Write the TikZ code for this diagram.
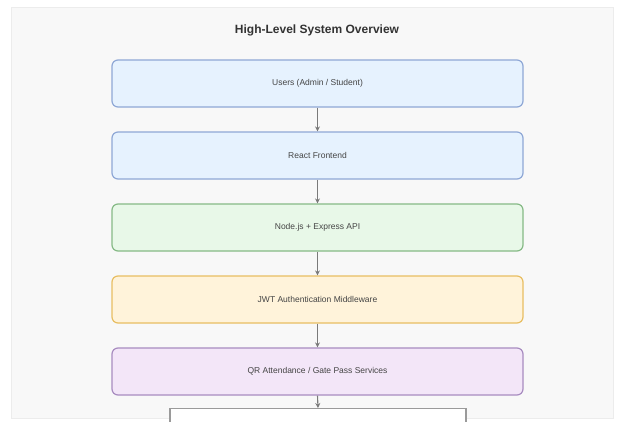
\documentclass[tikz,border=0pt]{standalone}
\usepackage{fontspec}
\setmainfont{Liberation Sans}
\usetikzlibrary{arrows.meta}
\definecolor{panelbg}{HTML}{F8F8F8}
\definecolor{panelln}{HTML}{ECECEC}
\definecolor{bluefill}{HTML}{E6F2FE}
\definecolor{blueline}{HTML}{8FA8D6}
\definecolor{greenfill}{HTML}{E8F8E8}
\definecolor{greenline}{HTML}{86BA86}
\definecolor{orangefill}{HTML}{FFF3DA}
\definecolor{orangeline}{HTML}{E8BE62}
\definecolor{purplefill}{HTML}{F3E6F8}
\definecolor{purpleline}{HTML}{A88CC0}
\definecolor{grayline}{HTML}{9A9A9A}
\definecolor{arrowgray}{HTML}{7A7A7A}
\definecolor{titlecol}{HTML}{333333}
\definecolor{textcol}{HTML}{444444}
\tikzset{
  layerbox/.style={draw, rounded corners=6pt, line width=1.2pt, minimum width=411pt, minimum height=47pt, inner sep=0pt, font=\fontsize{8.5}{10}\selectfont, text=textcol},
  flowarrow/.style={draw=arrowgray, line width=1.1pt, -{Stealth[length=5pt,width=5pt]}},
}
\begin{document}
\begin{tikzpicture}[x=1pt,y=-1pt]
\useasboundingbox (0,0) rectangle (618,421);
\clip (0,0) rectangle (618,421);
\fill[white] (0,0) rectangle (618,421);
\draw[panelln, fill=panelbg] (11,7) rectangle (613,418);
\node[font=\bfseries\fontsize{12}{14}\selectfont, text=titlecol] (title) at (317,30) {High-Level System Overview};
\node[layerbox, fill=bluefill, draw=blueline] (users) at (317.5,83.5) {Users (Admin / Student)};
\node[layerbox, fill=bluefill, draw=blueline] (react) at (317.5,155.5) {React Frontend};
\node[layerbox, fill=greenfill, draw=greenline] (api) at (317.5,227.5) {Node.js + Express API};
\node[layerbox, fill=orangefill, draw=orangeline] (jwt) at (317.5,299.5) {JWT Authentication Middleware};
\node[layerbox, fill=purplefill, draw=purpleline] (qr) at (317.5,371.5) {QR Attendance / Gate Pass Services};
\node[draw=grayline, fill=white, line width=1.2pt, minimum width=296pt, minimum height=40pt, anchor=north, inner sep=0pt] (db) at (318,408) {};
\draw[flowarrow] (users) -- (react);
\draw[flowarrow] (react) -- (api);
\draw[flowarrow] (api) -- (jwt);
\draw[flowarrow] (jwt) -- (qr);
\draw[flowarrow] (qr.south) -- (db.north);
\end{tikzpicture}
\end{document}
